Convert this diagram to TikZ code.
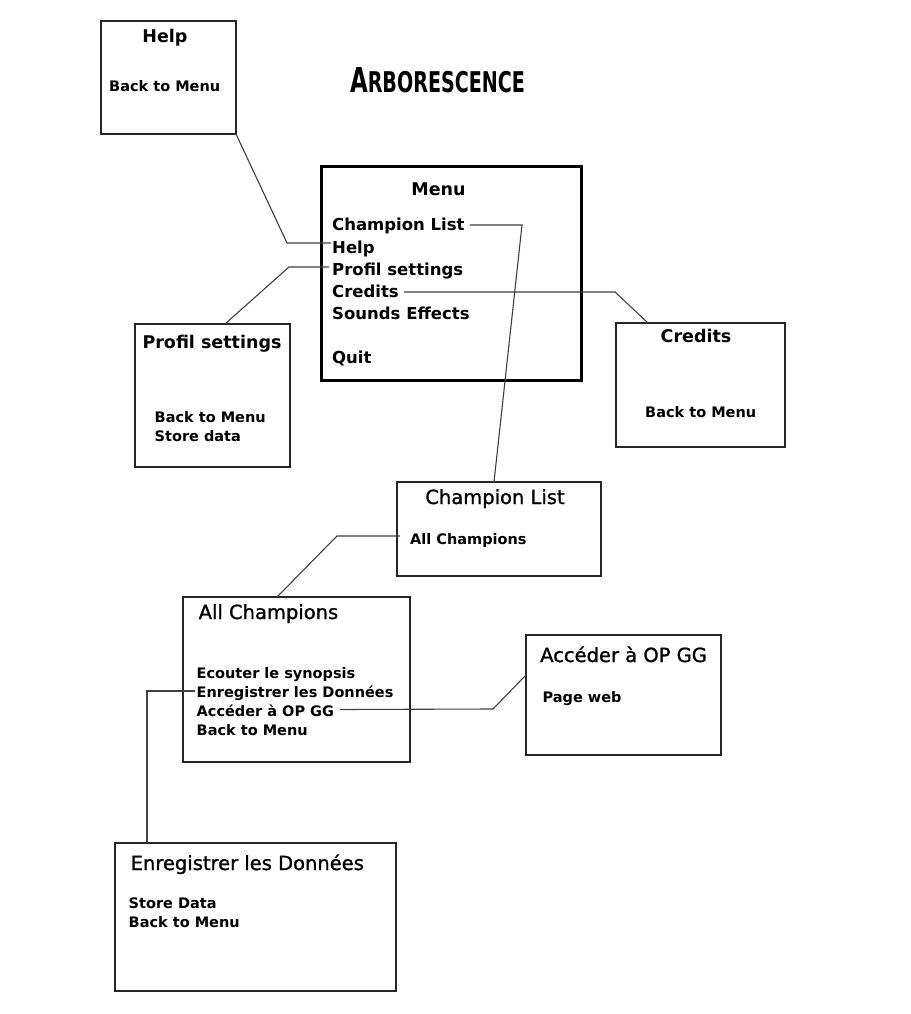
\documentclass[tikz,border=0pt]{standalone}
\usepackage{graphicx}
\usepackage{fontspec}
\setmainfont{DejaVu Sans}
\newfontfamily\semibfont[FakeBold=1.2]{DejaVu Sans}
\begin{document}
\begin{tikzpicture}[x=1pt,y=-1pt,
  box/.style={draw=black!85, line width=1.3pt, inner sep=0pt, outer sep=0pt, anchor=north west},
  menubox/.style={box, draw=black, line width=3pt},
  ttl/.style={font=\fontsize{17.5}{20}\selectfont\bfseries, inner sep=1pt, anchor=base},
  ttlr/.style={font=\fontsize{19.5}{22}\selectfont\semibfont, inner sep=1pt, anchor=base west},
  itm/.style={font=\fontsize{14.5}{17}\selectfont\bfseries, inner sep=1pt, anchor=base west},
  mitm/.style={font=\fontsize{16.5}{19}\selectfont\bfseries, inner sep=1pt, anchor=base west},
  link/.style={draw=black!75, line width=1.1pt}
]
\fill[white] (0,0) rectangle (910,1014);

% title
\node[anchor=base, inner sep=0pt] (title) at (437.5,93)
  {\resizebox{175pt}{25pt}{\bfseries\fontsize{12}{14}\selectfont A\fontsize{10}{12}\selectfont RBORESCENCE}};

% boxes
\node[box, minimum width=135pt, minimum height=113pt] (help) at (101,21) {};
\node[menubox, minimum width=260pt, minimum height=214pt] (menu) at (321,166) {};
\node[box, minimum width=155pt, minimum height=143pt] (profil) at (135,324) {};
\node[box, minimum width=169pt, minimum height=124pt] (credits) at (616,323) {};
\node[box, minimum width=204pt, minimum height=94pt] (champ) at (397,482) {};
\node[box, minimum width=227pt, minimum height=165pt] (allch) at (183,597) {};
\node[box, minimum width=195pt, minimum height=120pt] (opgg) at (526,635) {};
\node[box, minimum width=281pt, minimum height=148pt] (enreg) at (115,843) {};

% Help box
\node[ttl] (help-t) at (165,43) {Help};
\node[itm] (help-b) at (108,92) {Back to Menu};

% Menu box
\node[ttl] (menu-t) at (438.5,195) {Menu};
\node[mitm] (m-champ) at (331,230) {Champion List};
\node[mitm] (m-help) at (331,253) {Help};
\node[mitm] (m-profil) at (331,275.5) {Profil settings};
\node[mitm] (m-credits) at (331,297) {Credits};
\node[mitm] (m-sounds) at (331,319) {Sounds Effects};
\node[mitm] (m-quit) at (331,363) {Quit};

% Profil settings box
\node[ttl] (prof-t) at (212,348) {Profil settings};
\node[itm] (prof-b) at (153.5,422.5) {Back to Menu};
\node[itm] (prof-s) at (153.5,441.5) {Store data};

% Credits box
\node[ttl] (cred-t) at (696,342.5) {Credits};
\node[itm] (cred-b) at (644,417) {Back to Menu};

% Champion List box
\node[ttlr, anchor=base] (champ-t) at (495,504) {Champion List};
\node[itm] (champ-a) at (409,544) {All Champions};

% All Champions box
\node[ttlr] (all-t) at (197.5,619) {All Champions};
\node[itm] (all-1) at (195.5,678) {Ecouter le synopsis};
\node[itm] (all-2) at (195.5,697) {Enregistrer les Données};
\node[itm] (all-3) at (195.5,716) {Accéder à OP GG};
\node[itm] (all-4) at (195.5,735) {Back to Menu};

% Acceder box
\node[ttlr] (op-t) at (539,662) {Accéder à OP GG};
\node[itm] (op-1) at (541.5,702) {Page web};

% Enregistrer box
\node[ttlr] (en-t) at (129.5,870) {Enregistrer les Données};
\node[itm] (en-1) at (127.5,908) {Store Data};
\node[itm] (en-2) at (127.5,927.5) {Back to Menu};

% connectors
\draw[link] ([yshift=10pt]m-help.base west) -- (287,243) -- (help.south east);
\draw[link] ([yshift=8.5pt,xshift=-2pt]m-profil.base west) -- (289,267) -- ([xshift=90pt]profil.north west);
\draw[link] ([yshift=5pt,xshift=4pt]m-credits.base east) -- (615,292) -- ([xshift=32pt]credits.north west);
\draw[link] ([yshift=5pt,xshift=4pt]m-champ.base east) -- (522,225) -- ([xshift=97pt]champ.north west);
\draw[link] ([yshift=8pt,xshift=-9pt]champ-a.base west) -- (337,536) -- ([xshift=94pt]allch.north west);
\draw[link] ([yshift=6.5pt,xshift=5pt]all-3.base east) -- (493,709) -- ([yshift=-40pt]opgg.north west);
\draw[link] ([yshift=6pt,xshift=-1pt]all-2.base west) -- (147,691) -- ([xshift=32pt]enreg.north west);
\end{tikzpicture}
\end{document}
